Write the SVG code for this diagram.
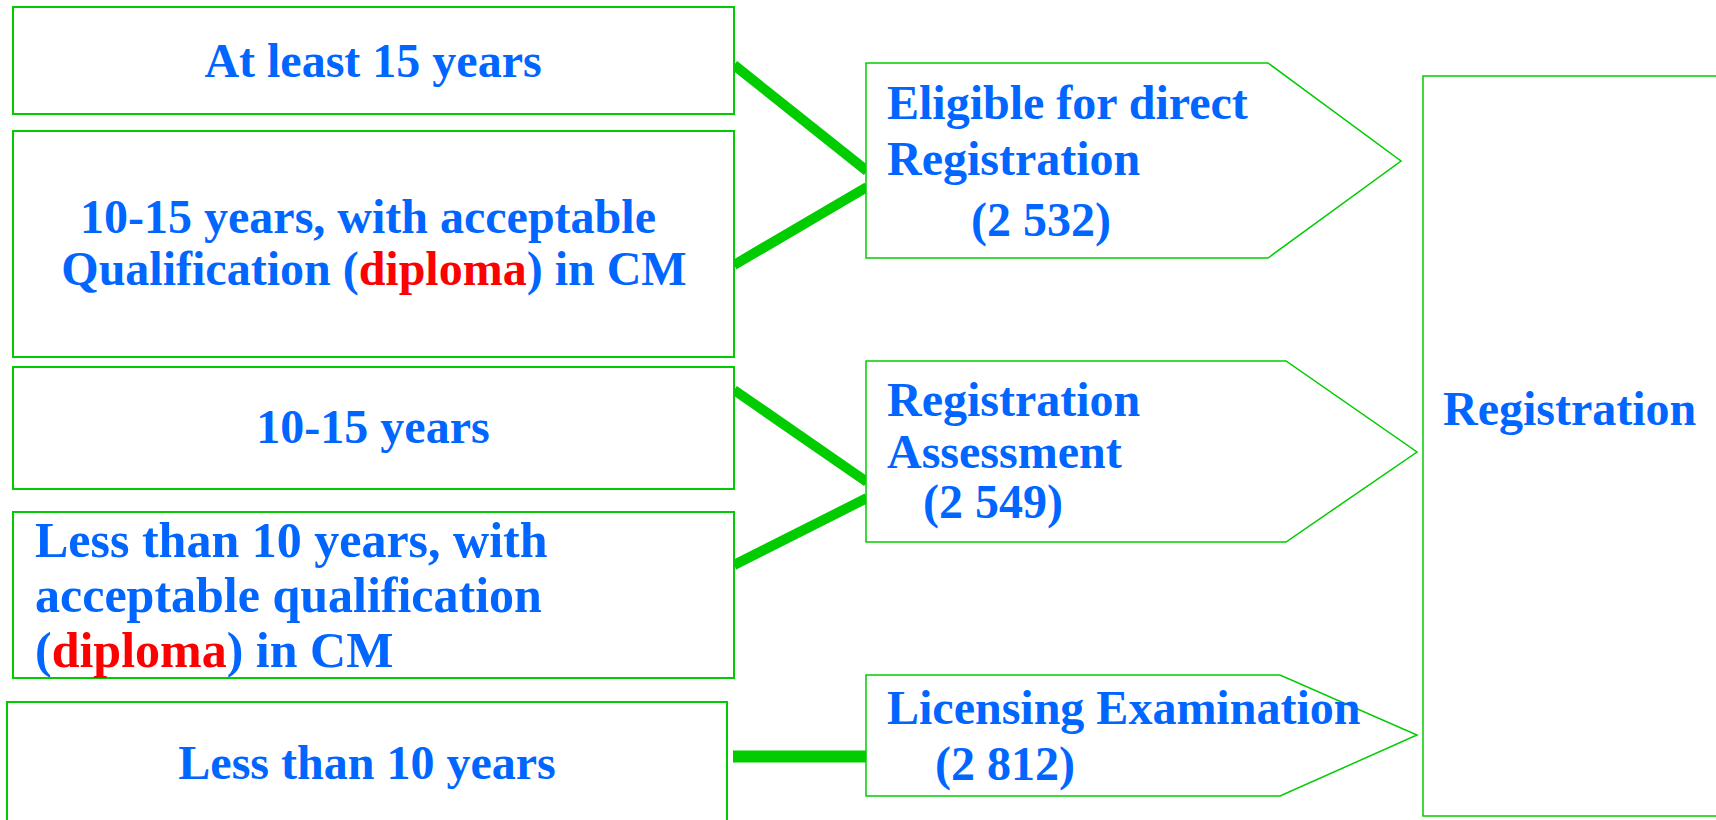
<svg xmlns="http://www.w3.org/2000/svg" width="1716" height="820" viewBox="0 0 1716 820">
<style>
.box{fill:#fff;stroke:#00cc00;stroke-width:2}
.pent{fill:#fff;stroke:#00cc00;stroke-width:1.5}
.t{font-family:"Liberation Serif","Times New Roman",serif;font-weight:bold;font-size:48px;fill:#0066ff}
.big{font-size:50px}
.c{text-anchor:middle}
.red{fill:#ff0000}
.conn{stroke:#00cc00;stroke-width:10;fill:none}
</style>
<rect width="1716" height="820" fill="#fff"/>
<g id="connectors">
<line class="conn" x1="734" y1="65" x2="867" y2="171"/>
<line class="conn" x1="867" y1="187" x2="734" y2="265"/>
<line class="conn" x1="734" y1="390" x2="867" y2="482"/>
<line class="conn" x1="867" y1="498" x2="734" y2="565"/>
<line class="conn" x1="733" y1="756.5" x2="867" y2="756.5" style="stroke-width:12"/>
</g>
<g id="n1">
<rect class="box" x="13" y="7" width="721" height="107"/>
<text class="t c" x="373" y="77">At least 15 years</text>
</g>
<g id="n2">
<rect class="box" x="13" y="131" width="721" height="226"/>
<text class="t c" x="368" y="233">10-15 years, with acceptable</text>
<text class="t c" x="374" y="285">Qualification (<tspan class="red">diploma</tspan>) in CM</text>
</g>
<g id="n3">
<rect class="box" x="13" y="367" width="721" height="122"/>
<text class="t c" x="373" y="443">10-15 years</text>
</g>
<g id="n4">
<rect class="box" x="13" y="512" width="721" height="166"/>
<text class="t big" x="35" y="557">Less than 10 years, with</text>
<text class="t big" x="35" y="612">acceptable qualification</text>
<text class="t big" x="35" y="667">(<tspan class="red">diploma</tspan>) in CM</text>
</g>
<g id="n5">
<rect class="box" x="7" y="702" width="720" height="125"/>
<text class="t c" x="367" y="779">Less than 10 years</text>
</g>
<g id="p1">
<polygon class="pent" points="866,63 1268,63 1401,161 1268,258 866,258"/>
<text class="t" x="887" y="119">Eligible for direct</text>
<text class="t" x="887" y="175">Registration</text>
<text class="t" x="971" y="236">(2 532)</text>
</g>
<g id="p2">
<polygon class="pent" points="866,361 1286,361 1417,452 1286,542 866,542"/>
<text class="t" x="887" y="416">Registration</text>
<text class="t" x="887" y="468">Assessment</text>
<text class="t" x="923" y="518">(2 549)</text>
</g>
<g id="p3">
<polygon class="pent" points="866,675 1280,675 1417,735 1280,796 866,796"/>
<text class="t" x="887" y="724">Licensing Examination</text>
<text class="t" x="935" y="780">(2 812)</text>
</g>
<g id="reg">
<rect class="box" x="1423" y="76" width="300" height="740" style="stroke-width:1.5"/>
<text class="t" x="1443" y="425">Registration</text>
</g>
</svg>
